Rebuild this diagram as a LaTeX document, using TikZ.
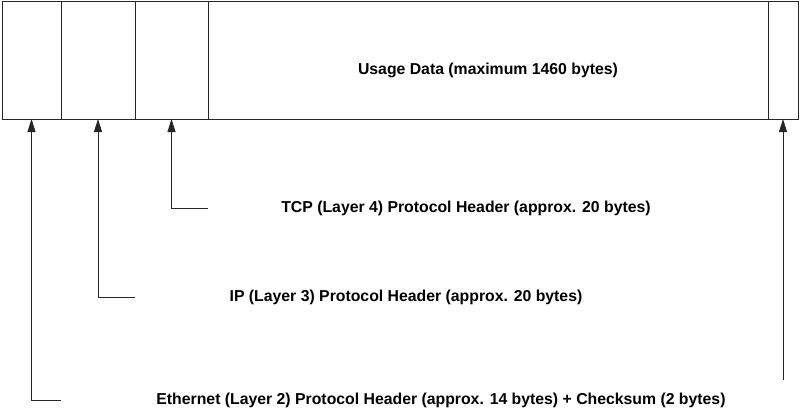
\documentclass[tikz,border=0pt]{standalone}
\usepackage{fontspec}
\setmainfont{Liberation Sans}
\usetikzlibrary{arrows.meta, positioning}

\begin{document}
\begin{tikzpicture}[
    x=1pt, y=-1pt,
    node distance=0pt,
    field/.style={draw=black!85, line width=0.9pt, minimum height=118pt, inner sep=0pt, outer sep=0pt},
    caption/.style={font=\bfseries\fontsize{15.8}{18}\selectfont, inner sep=0pt},
    pointer/.style={draw=black!85, line width=0.8pt, -{Triangle[length=13pt, width=8pt]}}
]
    \useasboundingbox (0,0) rectangle (800,412);

    % frame fields
    \node[field, minimum width=59pt, anchor=north west] (eth) at (2,1) {};
    \node[field, minimum width=74pt, right=of eth] (ip) {};
    \node[field, minimum width=73pt, right=of ip] (tcp) {};
    \node[field, minimum width=560pt, right=of tcp] (data) {};
    \node[field, minimum width=30pt, right=of data] (crc) {};

    \node[caption] (datalbl) at ([yshift=-10pt]data.center) {Usage Data (maximum 1460 bytes)};

    % header captions
    \node[caption] (tcplbl) at (466,208) {TCP (Layer 4) Protocol Header (approx. 20 bytes)};
    \node[caption] (iplbl) at (406,297) {IP (Layer 3) Protocol Header (approx. 20 bytes)};
    \node[caption] (ethlbl) at (441,400) {Ethernet (Layer 2) Protocol Header (approx. 14 bytes) + Checksum (2 bytes)};

    \coordinate (crcend) at ([yshift=-261pt]crc.south);

    \draw[pointer] (tcp.east |- tcplbl) -| (tcp.south);
    \draw[pointer] (ip.east |- iplbl) -| (ip.south);
    \draw[pointer] (eth.east |- ethlbl) -| (eth.south);
    \draw[pointer] (crcend) -- (crc.south);
\end{tikzpicture}
\end{document}
